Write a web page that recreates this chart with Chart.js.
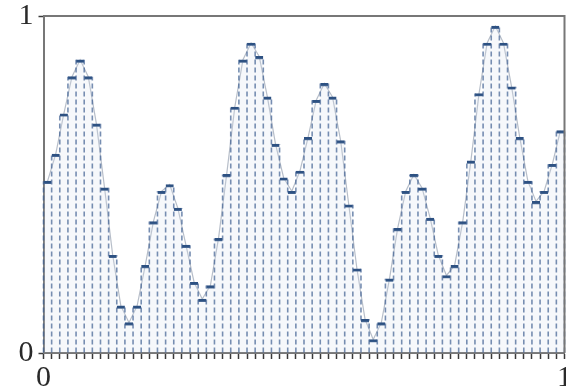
<!DOCTYPE html>
<html>
<head>
<meta charset="utf-8">
<script src="https://cdn.jsdelivr.net/npm/chart.js@4"></script>
<style>
  body { margin: 0; background: #fff; }
  #wrap { width: 566px; height: 391px; }
</style>
</head>
<body>
<div id="wrap"><canvas id="c" width="566" height="391"></canvas></div>
<script>
// ── Data ───────────────────────────────────────────────
const bins = Array.from({ length: 64 }, (_, i) => String(i));
const heights = [
  0.51, 0.59, 0.71, 0.82, 0.87, 0.82, 0.68, 0.49, 0.29, 0.14,
  0.09, 0.14, 0.26, 0.39, 0.48, 0.50, 0.43, 0.32, 0.21, 0.16,
  0.20, 0.34, 0.53, 0.73, 0.87, 0.92, 0.88, 0.76, 0.62, 0.52,
  0.48, 0.54, 0.64, 0.75, 0.80, 0.76, 0.63, 0.44, 0.25, 0.10,
  0.04, 0.09, 0.22, 0.37, 0.48, 0.53, 0.49, 0.40, 0.29, 0.23,
  0.26, 0.39, 0.57, 0.77, 0.92, 0.97, 0.92, 0.79, 0.64, 0.51,
  0.45, 0.48, 0.56, 0.66
];
const edgeTicks = [0, 1];

// ── Look ───────────────────────────────────────────────
const C = {
  cap: '#2d5182',
  stem: 'rgba(62,95,145,0.7)',
  fill: 'rgba(214,224,238,0.22)',
  trace: 'rgba(165,174,188,0.8)',
  axis: '#777',
  tick: '#3a3a3a',
  text: '#2a2a2a',
  serif: '"Liberation Serif", "DejaVu Serif", serif',
};

// dashed stems on every bin edge, up to the taller neighbour
const stems = {
  id: 'stems',
  afterDatasetsDraw(chart) {
    const bars = chart.getDatasetMeta(1).data;
    const ctx = chart.ctx;
    ctx.save();
    ctx.strokeStyle = C.stem;
    ctx.lineWidth = 1.6;
    ctx.setLineDash([5, 3]);
    for (let k = 0; k <= bars.length; k++) {
      const l = bars[k - 1], r = bars[k];
      const ref = r || l;
      const x = r ? r.x - r.width / 2 : l.x + l.width / 2;
      const top = Math.min(l ? l.y : Infinity, r ? r.y : Infinity);
      ctx.beginPath();
      ctx.moveTo(x, ref.base);
      ctx.lineTo(x, top);
      ctx.stroke();
    }
    ctx.restore();
  }
};

// top/right edges of the plot box
const frame = {
  id: 'frame',
  afterDraw(chart) {
    const { left, right, top, bottom } = chart.chartArea;
    const ctx = chart.ctx;
    ctx.save();
    ctx.strokeStyle = C.axis;
    ctx.lineWidth = 2;
    ctx.beginPath();
    ctx.moveTo(left, top);
    ctx.lineTo(right, top);
    ctx.lineTo(right, bottom);
    ctx.stroke();
    ctx.restore();
  }
};

new Chart(document.getElementById('c'), {
  data: {
    labels: bins,
    datasets: [
      {
        type: 'line', data: heights, order: 2,
        borderColor: C.trace, borderWidth: 1.2, pointRadius: 0, tension: 0,
      },
      {
        type: 'bar', data: heights, order: 1,
        backgroundColor: C.fill, borderColor: C.cap,
        borderWidth: { top: 2.5, left: 0, right: 0, bottom: 0 },
        borderSkipped: 'bottom',
        categoryPercentage: 1, barPercentage: 1,
      },
    ]
  },
  options: {
    responsive: false, animation: false,
    layout: { padding: { left: 18, top: 16, right: 1.5, bottom: 0 } },
    plugins: { legend: { display: false }, tooltip: { enabled: false } },
    scales: {
      x: {
        type: 'category', offset: true,
        grid: { offset: true, drawOnChartArea: false, drawTicks: true, tickLength: 6, tickColor: C.tick, tickWidth: 1.5 },
        border: { color: C.axis, width: 2 },
        afterFit: s => { s.height = 6; },
        ticks: { display: false, autoSkip: false },
      },
      x2: {
        type: 'linear', position: 'bottom', min: 0, max: 1,
        grid: { display: false, drawTicks: false }, border: { display: false },
        afterBuildTicks: s => { s.ticks = edgeTicks.map(v => ({ value: v })); },
        afterFit: s => { s.paddingLeft = 0; s.paddingRight = 0; s.height = 32; },
        ticks: { padding: 4, color: C.text, font: { family: C.serif, size: 30, lineHeight: 1 } },
      },
      y: {
        min: 0, max: 1,
        grid: { drawOnChartArea: false, tickLength: 5, tickColor: C.tick, tickWidth: 1.5 },
        border: { color: C.axis, width: 2 },
        afterBuildTicks: s => { s.ticks = edgeTicks.map(v => ({ value: v })); },
        afterFit: s => { s.paddingTop = 0; s.paddingBottom = 0; s.width = 25.5; },
        ticks: { padding: 5, color: C.text, font: { family: C.serif, size: 30, lineHeight: 1 } },
      },
    }
  },
  plugins: [stems, frame]
});
</script>
</body>
</html>
